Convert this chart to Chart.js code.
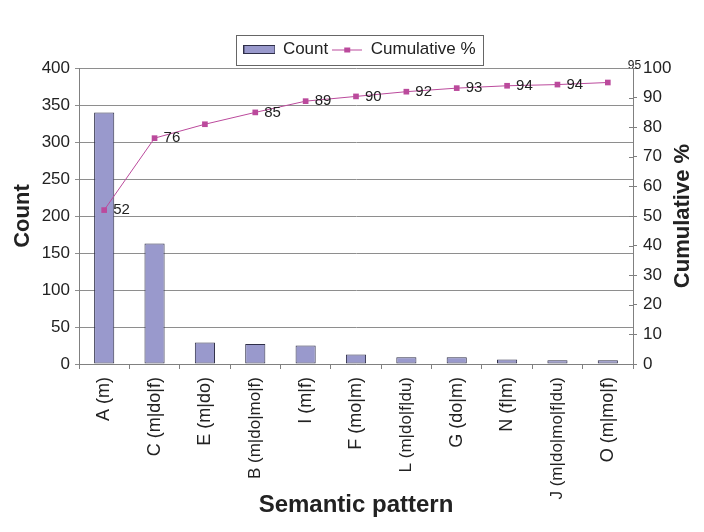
<!DOCTYPE html>
<html>
<head>
<meta charset="utf-8">
<script src="https://cdn.jsdelivr.net/npm/chart.js@4.4.1/dist/chart.umd.min.js"></script>
<style>
  html, body { margin: 0; padding: 0; background: #fff; }
  #wrap { width: 704px; height: 532px; }
</style>
</head>
<body>
<div id="wrap"><canvas id="chart"></canvas></div>
<script>
// Pareto chart of semantic patterns: counts as bars, cumulative % as line.
const categories = ["A (m)", "C (m|do|f)", "E (m|do)", "B (m|do|mo|f)", "I (m|f)", "F (mo|m)",
                    "L (m|do|f|du)", "G (do|m)", "N (f|m)", "J (m|do|mo|f|du)", "O (m|mo|f)"];
const counts = [340, 163, 29, 27, 25, 13, 9, 9, 6, 5, 5];
const cumulative = [52, 76.3, 81, 85, 88.8, 90.4, 92, 93.2, 94, 94.4, 95.1];
// E has no label in the original
const pointLabels = ["52", "76", null, "85", "89", "90", "92", "93", "94", "94", "95"];
const countTicks = [0, 50, 100, 150, 200, 250, 300, 350, 400];
const pctTicks = [0, 10, 20, 30, 40, 50, 60, 70, 80, 90, 100];

const FONT = '"Liberation Sans", Arial, sans-serif';
const BAR_FILL = "#9999cc";
const BAR_EDGE = "#2f2f48";
const LINE = "#bb4a9c";
const AXIS = "#808080";
const GRID = "#8e8e8e";
const INK = "#222";

Chart.defaults.font.family = FONT;
Chart.defaults.color = INK;

function swatch(w, h, draw) {
    const c = document.createElement("canvas");
    c.width = w;
    c.height = h;
    draw(c.getContext("2d"));
    return c;
}
const barSwatch = swatch(32, 9, g => {
    g.fillStyle = BAR_FILL;
    g.fillRect(0.5, 0.5, 31, 8);
    g.strokeStyle = BAR_EDGE;
    g.strokeRect(0.5, 0.5, 31, 8);
});
const lineSwatch = swatch(30, 8, g => {
    g.strokeStyle = LINE;
    g.beginPath();
    g.moveTo(0, 4.5);
    g.lineTo(30, 4.5);
    g.stroke();
    g.fillStyle = LINE;
    g.fillRect(12, 2, 6, 5);
});

// frame round the legend, like the spreadsheet original
const legendFrame = {
    id: "legendFrame",
    afterDraw(chart) {
        const boxes = chart.legend.legendHitBoxes;
        if (!boxes || !boxes.length) return;
        const first = boxes[0], last = boxes[boxes.length - 1];
        const x0 = Math.round(first.left - 8) + 0.5;
        const x1 = Math.round(last.left + last.width + 7) + 0.5;
        const y0 = Math.round(first.top - 6) + 0.5;
        const y1 = Math.round(first.top + first.height + 7) + 0.5;
        const ctx = chart.ctx;
        ctx.save();
        ctx.strokeStyle = "#666";
        ctx.lineWidth = 1;
        ctx.strokeRect(x0, y0, x1 - x0, y1 - y0);
        ctx.restore();
    }
};

const pointLabelPlugin = {
    id: "pointLabels",
    afterDatasetsDraw(chart) {
        const meta = chart.getDatasetMeta(1);
        const ctx = chart.ctx;
        ctx.save();
        ctx.fillStyle = INK;
        ctx.textAlign = "left";
        ctx.textBaseline = "middle";
        meta.data.forEach((pt, i) => {
            const text = pointLabels[i];
            if (!text) return;
            const last = i === meta.data.length - 1;
            ctx.font = (last ? 12 : 15) + "px " + FONT;
            ctx.fillText(text, pt.x + (last ? 20 : 9), pt.y - (last ? 17 : 0));
        });
        ctx.restore();
    }
};

// y titles both read bottom-to-top; right axis ticks cross the axis line
const axisExtras = {
    id: "axisExtras",
    afterDraw(chart) {
        const ctx = chart.ctx;
        const y = chart.scales.y, y1 = chart.scales.y1;
        ctx.save();
        ctx.strokeStyle = AXIS;
        ctx.lineWidth = 1;
        ctx.beginPath();
        y1.ticks.forEach((t, i) => {
            const py = Math.round(y1.getPixelForTick(i)) + 0.5;
            ctx.moveTo(y1.left - 4, py);
            ctx.lineTo(y1.left, py);
        });
        ctx.stroke();

        ctx.fillStyle = INK;
        ctx.font = "bold 22px " + FONT;
        ctx.textAlign = "center";
        ctx.textBaseline = "middle";
        const midY = (y.top + y.bottom) / 2;
        [["Count", 23], ["Cumulative %", chart.width - 21]].forEach(([text, x]) => {
            ctx.save();
            ctx.translate(x, midY);
            ctx.rotate(-Math.PI / 2);
            ctx.fillText(text, 0, 0);
            ctx.restore();
        });
        ctx.restore();
    }
};

const isLong = s => s.length > 11;

new Chart(document.getElementById("chart"), {
    data: {
        labels: categories,
        datasets: [
            {
                type: "bar",
                label: "Count",
                data: counts,
                yAxisID: "y",
                backgroundColor: BAR_FILL,
                borderColor: BAR_EDGE,
                borderWidth: 1,
                borderSkipped: false,
                barPercentage: 0.4,
                categoryPercentage: 1.0,
                order: 2,
            },
            {
                type: "line",
                label: "Cumulative %",
                data: cumulative,
                yAxisID: "y1",
                borderColor: LINE,
                borderWidth: 1,
                pointStyle: "rect",
                pointRadius: 4,
                pointBackgroundColor: LINE,
                pointBorderWidth: 0,
                tension: 0,
                order: 1,
            },
        ],
    },
    options: {
        responsive: true,
        maintainAspectRatio: false,
        animation: false,
        layout: { padding: { left: 16, top: 14, right: 0, bottom: 0 } },
        plugins: {
            tooltip: { enabled: false },
            legend: {
                position: "top",
                labels: {
                    usePointStyle: true,
                    pointStyleWidth: 30,
                    padding: 4,
                    color: INK,
                    font: { size: 17 },
                    generateLabels: () => [
                        { text: "Count", pointStyle: barSwatch, fillStyle: BAR_FILL, strokeStyle: BAR_EDGE,
                          lineWidth: 0, hidden: false, datasetIndex: 0, fontColor: INK },
                        { text: "Cumulative %", pointStyle: lineSwatch, fillStyle: LINE, strokeStyle: LINE,
                          lineWidth: 0, hidden: false, datasetIndex: 1, fontColor: INK },
                    ],
                },
            },
        },
        scales: {
            x: {
                grid: { drawOnChartArea: false, color: AXIS, tickLength: 5, offset: true },
                border: { color: AXIS, width: 1 },
                ticks: {
                    autoSkip: false,
                    maxRotation: 90,
                    minRotation: 90,
                    padding: 8,
                    color: INK,
                    font: c => ({ size: isLong(categories[c.index] || "") ? 17 : 18 }),
                },
                title: {
                    display: true,
                    text: "Semantic pattern",
                    color: INK,
                    font: { size: 24, weight: "bold" },
                    padding: { top: 0, bottom: 12 },
                },
                afterFit: s => { s.height = 168; },
            },
            y: {
                position: "left",
                min: 0,
                max: 400,
                afterBuildTicks: s => { s.ticks = countTicks.map(v => ({ value: v })); },
                grid: { color: GRID, tickLength: 4 },
                border: { color: AXIS, width: 1 },
                ticks: { padding: 5, color: INK, font: { size: 17 } },
                afterFit: s => { s.width = 63; s.paddingTop = 68; },
            },
            y1: {
                position: "right",
                min: 0,
                max: 100,
                afterBuildTicks: s => { s.ticks = pctTicks.map(v => ({ value: v })); },
                grid: { drawOnChartArea: false, color: AXIS, tickLength: 4 },
                border: { color: AXIS, width: 1 },
                ticks: { padding: 6, color: INK, font: { size: 17 } },
                afterFit: s => { s.width = 71; s.paddingTop = 68; },
            },
        },
    },
    plugins: [legendFrame, pointLabelPlugin, axisExtras],
});
</script>
</body>
</html>
